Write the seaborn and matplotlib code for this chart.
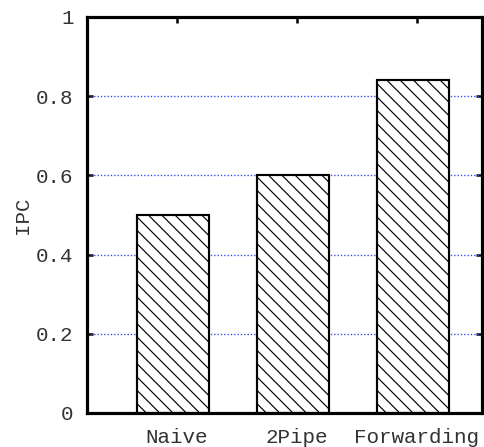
import matplotlib
matplotlib.use("Agg")
import matplotlib.pyplot as plt
import seaborn as sns
import pandas as pd

categories = ["Naive", "2Pipe", "Forwarding"]
ipc = [0.5, 0.6, 0.84]
yticks = [0, 0.2, 0.4, 0.6, 0.8, 1]
ytick_labels = ["0", "0.2", "0.4", "0.6", "0.8", "1"]

sns.set_style("white")
plt.rcParams["font.family"] = ["Liberation Mono", "DejaVu Sans Mono"]
plt.rcParams["hatch.linewidth"] = 0.7
plt.rcParams["hatch.color"] = "black"

DPI = 120
fig = plt.figure(figsize=(484 / DPI, 447 / DPI), dpi=DPI)
ax = fig.add_axes([87 / 484, 1 - 413 / 447, (481.5 - 87) / 484, (413 - 17) / 447])

df = pd.DataFrame({"cat": categories, "ipc": ipc})
sns.barplot(data=df, x="cat", y="ipc", color="white", edgecolor="black",
            linewidth=1.3, width=0.6, ax=ax, saturation=1)
for p in ax.patches:
    p.set_hatch("\\\\\\")
    p.set_facecolor("white")
    p.set_zorder(3)

ax.set_xlim(-0.717, 2.571)
ax.set_ylim(0, 1)
ax.set_yticks(yticks)
ax.set_yticklabels(ytick_labels)
off = 0.033
ax.set_xticks([i + off for i in range(len(categories))])
ax.set_xticklabels(categories)
ax.set_xlabel("")
ax.set_ylabel("IPC", fontsize=12.5, color="#333333")
ax.yaxis.set_label_coords(-0.139, 0.5)

ax.tick_params(axis="y", which="both", direction="in", left=True, right=True,
               length=3.5, width=1.5, labelsize=12.5, pad=8, colors="black",
               labelcolor="#333333")
ax.tick_params(axis="x", which="both", direction="in", bottom=True, top=True,
               length=3.5, width=1.5, labelsize=12.5, pad=9, colors="black",
               labelcolor="#333333")

for s in ax.spines.values():
    s.set_visible(True)
    s.set_linewidth(1.9)
    s.set_color("black")
    s.set_zorder(5)

for y in yticks[1:-1]:
    ax.axhline(y, color="#3344ee", linestyle=(0, (1, 1.5)), linewidth=0.8, zorder=1)

fig.savefig("out.png", dpi=DPI)
